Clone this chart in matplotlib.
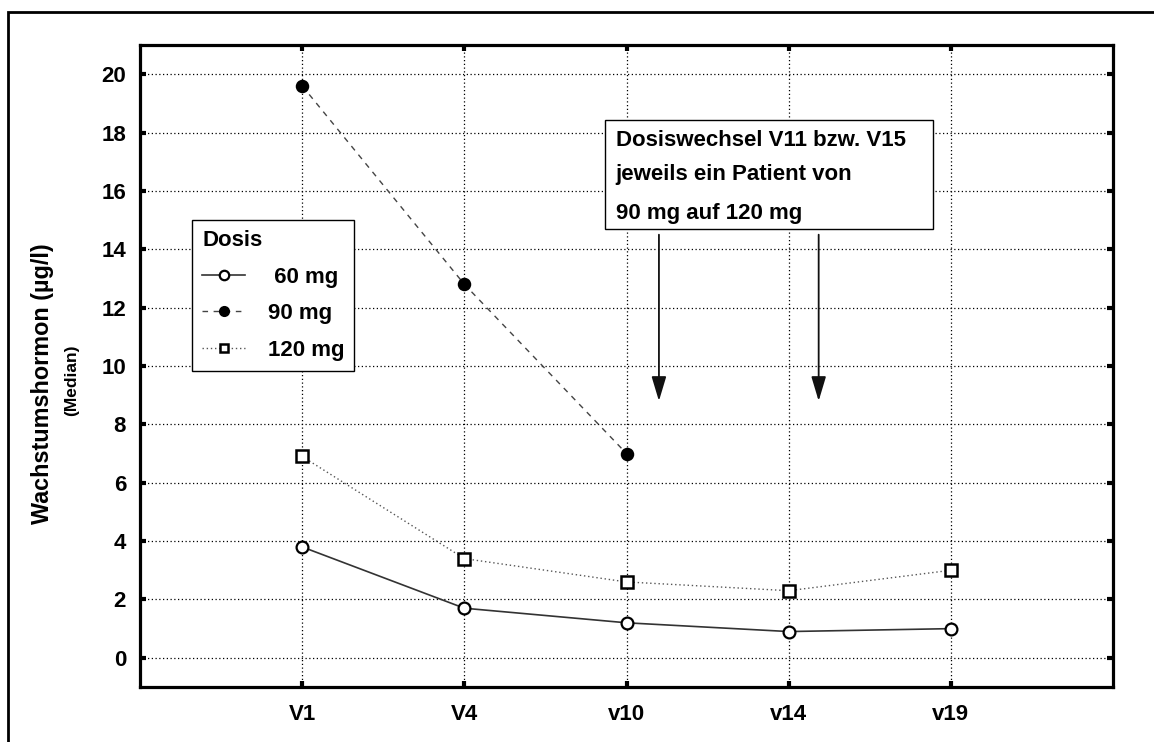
import matplotlib
matplotlib.use("Agg")
import matplotlib.pyplot as plt
from matplotlib.patches import Rectangle
import numpy as np

plt.rcParams['font.family'] = ['Liberation Sans', 'DejaVu Sans']
plt.rcParams['font.weight'] = 'bold'

# data
visits = ["V1", "V4", "v10", "v14", "v19"]
dose_60 = [3.8, 1.7, 1.2, 0.9, 1.0]
dose_90 = [19.6, 12.8, 7.0]
dose_120 = [6.9, 3.4, 2.6, 2.3, 3.0]
arrow_visits = [3.2, 4.185]   # switch at V11 / V15
y_ticks = [0, 2, 4, 6, 8, 10, 12, 14, 16, 18, 20]

x = np.arange(1, len(visits) + 1)

fig = plt.figure(figsize=(11.54, 7.42), dpi=100)
ax = fig.add_axes([140/1154, 55/742, 973/1154, 642/742])

# outer frame (only top/left visible in the original)
fig.patches.append(Rectangle((8/1154, -0.2), 2.0, 1.2 - 12/742,
                             transform=fig.transFigure, fill=False,
                             lw=2, ec='black', clip_on=False))

ax.plot(x, dose_60, color='#333333', lw=1.2, ls='-', marker='o', ms=8.5,
        mfc='white', mec='black', mew=1.6, label=' 60 mg', zorder=4)
ax.plot(x[:len(dose_90)], dose_90, color='#444444', lw=1, ls=(0, (4, 4)),
        marker='o', ms=8.5, mfc='black', mec='black', mew=1.2,
        label='90 mg', zorder=4)
ax.plot(x, dose_120, color='#555555', lw=1, ls=(0, (1, 2)), marker='s',
        ms=8, mfc='white', mec='black', mew=1.8, label='120 mg', zorder=4)

ax.set_xlim(0, 6)
ax.set_ylim(-1, 21)
ax.set_xticks(x)
ax.set_xticklabels(visits)
ax.set_yticks(y_ticks)
ax.grid(True, color='black', lw=0.9, ls=(0, (1, 2)))
ax.tick_params(direction='in', length=4, width=3, top=True, right=True,
               labelsize=16)
ax.tick_params(axis='y', pad=10)
ax.tick_params(axis='x', pad=12)
for s in ax.spines.values():
    s.set_linewidth(2.3)

fig.text(43/1154, 0.4825, "Wachstumshormon (µg/l)", rotation=90,
         ha='center', va='center', fontsize=16.8, fontweight='bold')
fig.text(72/1154, 0.488, "(Median)", rotation=90, ha='center',
         va='center', fontsize=12.5, fontweight='bold')

leg = ax.legend(title='Dosis', loc='upper left',
                bbox_to_anchor=(52/973, (687-220)/642), borderaxespad=0,
                fontsize=16, title_fontsize=16, alignment='left',
                fancybox=False, framealpha=1, edgecolor='black',
                handlelength=1.95, handletextpad=1.0, labelspacing=0.7,
                borderpad=0.45, markerscale=0.8)
leg.get_frame().set_linewidth(1)
leg.get_title().set_fontweight('bold')

# annotation box
ax.add_patch(Rectangle((0.478, 0.713), 0.337, 0.170, transform=ax.transAxes,
                       fc='white', ec='black', lw=1, zorder=5))
note = ["Dosiswechsel V11 bzw. V15", "jeweils ein Patient von",
        "90 mg auf 120 mg"]
for line, yy in zip(note, [0.852, 0.798, 0.737]):
    ax.text(0.4887, yy, line, transform=ax.transAxes, fontsize=16,
            fontweight='bold', va='center', ha='left', zorder=6)

for xa in arrow_visits:
    ax.annotate("", xy=(xa, 8.8), xytext=(xa, 14.5),
                arrowprops=dict(arrowstyle='-|>,head_length=1.5,head_width=0.45',
                                color='#111111', lw=1.3, shrinkA=0, shrinkB=0),
                zorder=6)

fig.savefig("out.png", dpi=100)
